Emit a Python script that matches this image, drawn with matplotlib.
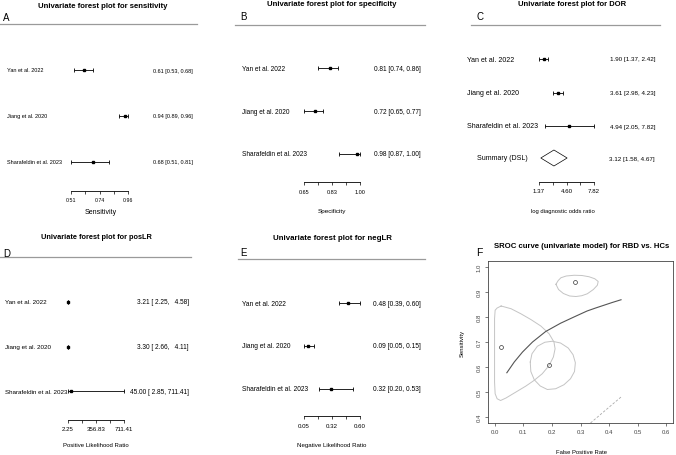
import numpy as np
import matplotlib
matplotlib.use("Agg")
import matplotlib.pyplot as plt
from matplotlib.lines import Line2D
from matplotlib.transforms import blended_transform_factory

plt.rcParams['font.family'] = ['Liberation Sans', 'DejaVu Sans']

W, H = 676, 456

studies = ["Yan et al. 2022", "Jiang et al. 2020", "Sharafeldin et al. 2023"]

# sensitivity
sens_est = [0.61, 0.94, 0.68]
sens_lo = [0.53, 0.89, 0.51]
sens_hi = [0.68, 0.96, 0.81]
sens_ticks = [0.51, 0.6225, 0.735, 0.8475, 0.96]
sens_ticklabels = ["0.51", "", "0.74", "", "0.96"]

# specificity
spec_est = [0.81, 0.72, 0.98]
spec_lo = [0.74, 0.65, 0.87]
spec_hi = [0.86, 0.77, 1.00]
spec_ticks = [0.65, 0.7375, 0.825, 0.9125, 1.00]
spec_ticklabels = ["0.65", "", "0.83", "", "1.00"]

# log DOR
dor_est = [1.90, 3.61, 4.94]
dor_lo = [1.37, 2.98, 2.05]
dor_hi = [2.42, 4.23, 7.82]
dor_summary = (3.12, 1.58, 4.67)
dor_ticks = [1.37, 2.9825, 4.595, 6.2075, 7.82]
dor_ticklabels = ["1.37", "", "4.60", "", "7.82"]

# positive LR
plr_est = [3.21, 3.30, 45.00]
plr_lo = [2.25, 2.66, 2.85]
plr_hi = [4.58, 4.11, 711.41]
plr_ticks = [2.25, 179.54, 356.83, 534.12, 711.41]
plr_ticklabels = ["2.25", "", "356.83", "", "711.41"]

# negative LR
nlr_est = [0.48, 0.09, 0.32]
nlr_lo = [0.39, 0.05, 0.20]
nlr_hi = [0.60, 0.15, 0.53]
nlr_ticks = [0.05, 0.1875, 0.325, 0.4625, 0.60]
nlr_ticklabels = ["0.05", "", "0.32", "", "0.60"]

# SROC curve (fpr, sens)
sroc_fpr = [0.042, 0.068, 0.097, 0.132, 0.178, 0.230, 0.277, 0.323, 0.353, 0.411, 0.442]
sroc_sens = [0.577, 0.620, 0.660, 0.700, 0.742, 0.775, 0.800, 0.824, 0.836, 0.858, 0.869]

# confidence regions (fpr, sens), one per study
reg_yan_x = [0.124, 0.130, 0.149, 0.175, 0.201, 0.230, 0.257, 0.274, 0.282, 0.279, 0.265,
             0.242, 0.213, 0.184, 0.159, 0.138, 0.126]
reg_yan_y = [0.620, 0.653, 0.683, 0.699, 0.703, 0.696, 0.676, 0.649, 0.617, 0.582, 0.553,
             0.529, 0.513, 0.510, 0.524, 0.549, 0.582]
reg_jiang_x = [0.214, 0.222, 0.2315, 0.250, 0.278, 0.305, 0.330, 0.350, 0.362, 0.359, 0.345,
               0.324, 0.304, 0.284, 0.262, 0.240, 0.223]
reg_jiang_y = [0.931, 0.946, 0.957, 0.964, 0.967, 0.966, 0.961, 0.953, 0.942, 0.927, 0.910,
               0.893, 0.885, 0.882, 0.884, 0.894, 0.910]
reg_shar_x = [0.022, 0.057, 0.091, 0.126, 0.161, 0.190, 0.207, 0.211, 0.205, 0.190, 0.166,
              0.137, 0.109, 0.074, 0.039, 0.020, 0.008, 0.001, -0.001, -0.001, -0.001, 0.001,
              0.008]
reg_shar_y = [0.844, 0.833, 0.813, 0.790, 0.764, 0.733, 0.700, 0.673, 0.640, 0.606, 0.573,
              0.546, 0.524, 0.500, 0.476, 0.466, 0.473, 0.493, 0.540, 0.673, 0.793, 0.827,
              0.836]
chance_x = [0.335, 0.442]
chance_y = [0.376, 0.480]

fig = plt.figure(figsize=(W / 100, H / 100), dpi=100)


def fx(px):
    return px / W


def fy(py):
    return 1 - py / H


def header(letter, lx, ly, lx0, lx1, line_y, title, tx, ty, tsize):
    fig.text(fx(tx), fy(ty), title, ha='center', va='center', fontsize=tsize, fontweight='bold')
    fig.text(fx(lx), fy(ly), letter, ha='left', va='center', fontsize=7)
    fig.add_artist(Line2D([fx(lx0), fx(lx1)], [fy(line_y), fy(line_y)], color='#9a9a9a', lw=0.9))


def fmt_plain(e, l, h):
    return "{:.2f} [{:.2f}, {:.2f}]".format(e, l, h)


def fmt_pad(e, l, h):
    return "{:.2f} [{:5.2f}, {:6.2f}]".format(e, l, h)


def forest(lay, est, lo, hi, ticks, ticklabels, xlabel, fs, tfs, rfs=None, fmt=fmt_plain,
           summary=None):
    rfs = fs if rfs is None else rfs
    rows = lay['rows']
    x0, x1 = lay['axis_x']
    ay = lay['axis_y']
    sp = (rows[2] - rows[0]) / 2.0
    ax = fig.add_axes([fx(x0), fy(ay), (x1 - x0) / W, (ay - rows[0]) / H])
    ax.set_xlim(ticks[0], ticks[-1])
    ax.set_ylim(-(ay - rows[0]) / sp, 0)
    ax.patch.set_visible(False)
    for s in ['top', 'left', 'right']:
        ax.spines[s].set_visible(False)
    ax.spines['bottom'].set_linewidth(0.6)
    ax.set_yticks([])
    ax.set_xticks(ticks)
    ax.set_xticklabels(ticklabels, fontsize=tfs)
    ax.tick_params(axis='x', length=2, width=0.5, pad=lay.get('pad', 2.5))

    ys = -np.arange(len(est))
    e = np.array(est)
    cont = ax.errorbar(e, ys, xerr=[e - np.array(lo), np.array(hi) - e], fmt='s', color='k',
                       ms=1.9, capsize=1.1, elinewidth=0.6, capthick=0.6)
    for art in cont.get_children():
        art.set_clip_on(False)

    tr = blended_transform_factory(fig.transFigure, ax.transData)
    for i, name in enumerate(studies):
        ax.text(fx(lay['label_x']), ys[i], name, transform=tr, ha='left', va='center', fontsize=fs)
        ax.text(fx(lay['right_x']), ys[i], fmt(est[i], lo[i], hi[i]), transform=tr,
                ha='right', va='center', fontsize=rfs)

    if summary is not None:
        se, sl, sh = summary
        yy = -(lay['sum_y'] - rows[0]) / sp
        hh = 8.0 / sp
        ax.fill([sl, se, sh, se], [yy, yy + hh, yy, yy - hh], facecolor='white',
                edgecolor='k', lw=0.5, clip_on=False)
        ax.text(fx(lay['sum_label_x']), yy, "Summary (DSL)", transform=tr, ha='left',
                va='center', fontsize=fs)
        ax.text(fx(lay['right_x']), yy, fmt(se, sl, sh), transform=tr, ha='right',
                va='center', fontsize=rfs)

    fig.text(fx(lay['xlab'][0]), fy(lay['xlab'][1]), xlabel, ha='center', va='center',
             fontsize=lay['xlab_fs'])
    return ax


# A
header("A", 3, 18, 0, 197, 25, "Univariate forest plot for sensitivity", 103, 7, 5.6)
forest(dict(rows=[71, 117, 163], axis_x=(71, 128), axis_y=192, label_x=7, right_x=193,
            xlab=(101, 213), xlab_fs=5.0, pad=2.2),
       sens_est, sens_lo, sens_hi, sens_ticks, sens_ticklabels, "Sensitivity", 4.0, 3.8)

# B
header("B", 240, 17, 235, 425, 26, "Univariate forest plot for specificity", 332, 4, 5.6)
forest(dict(rows=[69, 112, 155], axis_x=(304, 360), axis_y=183, label_x=242, right_x=421,
            xlab=(332, 211), xlab_fs=4.6, pad=3.2),
       spec_est, spec_lo, spec_hi, spec_ticks, spec_ticklabels, "Specificity", 4.7, 4.0)

# C
header("C", 476, 17, 471, 660, 26, "Univariate forest plot for DOR", 572, 5, 5.5)
forest(dict(rows=[60, 93, 127], axis_x=(539, 594), axis_y=183, label_x=467, right_x=655,
            xlab=(563, 211), xlab_fs=4.2, pad=2.6, sum_y=159, sum_label_x=477),
       dor_est, dor_lo, dor_hi, dor_ticks, dor_ticklabels, "log diagnostic odds ratio",
       5.0, 4.4, rfs=4.5, summary=dor_summary)

# D
header("D", 3, 254, 0, 191, 258, "Univariate forest plot for posLR", 96, 238, 5.3)
forest(dict(rows=[303, 347, 392], axis_x=(68, 124), axis_y=421, label_x=5, right_x=189,
            xlab=(96, 446), xlab_fs=4.3, pad=2.6),
       plr_est, plr_lo, plr_hi, plr_ticks, plr_ticklabels, "Positive Likelihood Ratio",
       4.5, 4.4, rfs=4.7, fmt=fmt_pad)

# E
header("E", 240, 253, 238, 425, 260, "Univariate forest plot for negLR", 332, 239, 5.7)
forest(dict(rows=[304, 347, 390], axis_x=(304, 360), axis_y=417, label_x=242, right_x=421,
            xlab=(332, 446), xlab_fs=4.4, pad=3.0),
       nlr_est, nlr_lo, nlr_hi, nlr_ticks, nlr_ticklabels, "Negative Likelihood Ratio",
       4.75, 4.4)

# F: SROC
fig.text(fx(582), fy(247), "SROC curve (univariate model) for RBD vs. HCs", ha='center',
         va='center', fontsize=5.6, fontweight='bold')
fig.text(fx(476), fy(253), "F", ha='left', va='center', fontsize=7.5)
axf = fig.add_axes([fx(488), fy(424), 185 / W, 162 / H])
axf.set_xlim(-0.024, 0.624)
axf.set_ylim(0.376, 1.024)
for s in axf.spines.values():
    s.set_linewidth(0.6)
    s.set_color('#444444')
axf.set_xticks(np.arange(0, 0.61, 0.1))
axf.set_xticklabels(["0.0", "0.1", "0.2", "0.3", "0.4", "0.5", "0.6"], fontsize=4.3)
axf.set_yticks(np.arange(0.4, 1.01, 0.1))
axf.set_yticklabels(["0.4", "0.5", "0.6", "0.7", "0.8", "0.9", "1.0"], fontsize=4.3,
                    rotation=90, va='center')
axf.tick_params(length=2, width=0.5, pad=2.5, colors='#444444')

gray = '#c4c4c4'
axf.plot(reg_shar_x + reg_shar_x[:1], reg_shar_y + reg_shar_y[:1], color=gray, lw=0.7)
axf.plot(reg_yan_x + reg_yan_x[:1], reg_yan_y + reg_yan_y[:1], color=gray, lw=0.7)
axf.plot(reg_jiang_x + reg_jiang_x[:1], reg_jiang_y + reg_jiang_y[:1], color=gray, lw=0.7)
axf.plot(sroc_fpr, sroc_sens, color='#555555', lw=0.8)
axf.plot(chance_x, chance_y, color='#aaaaaa', lw=0.6, ls=(0, (3, 2)))
fpr = 1 - np.array(spec_est)
axf.plot(fpr, sens_est, 'o', mfc='none', mec='#333333', ms=2.8, mew=0.5)

fig.text(fx(462), fy(343), "Sensitivity", rotation=90, ha='center', va='center', fontsize=4.2)
fig.text(fx(582), fy(453), "False Positive Rate", ha='center', va='center', fontsize=4.2)

fig.savefig("out.png", dpi=100)
